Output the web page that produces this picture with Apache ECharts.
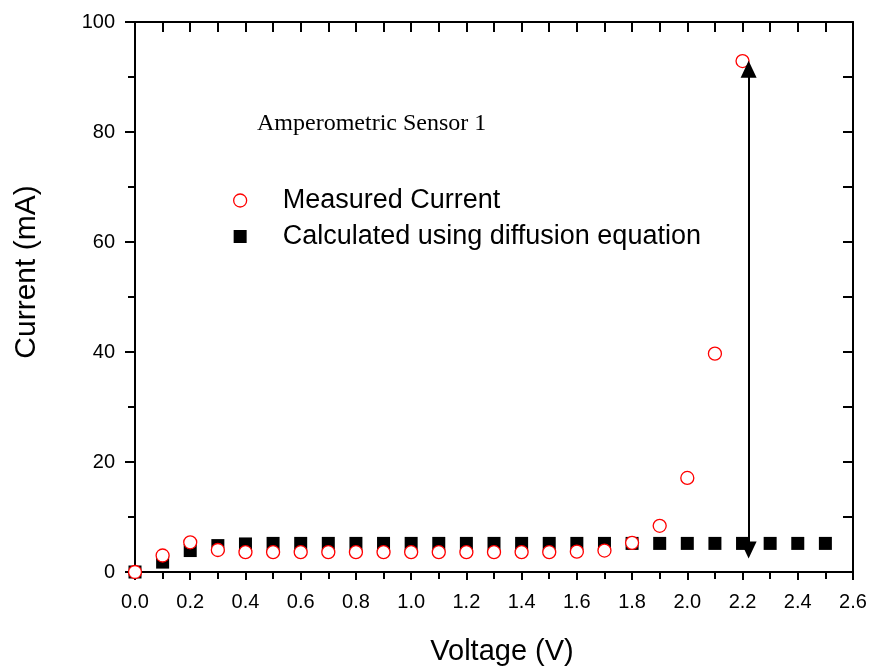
<!DOCTYPE html>
<html>
<head>
<meta charset="utf-8">
<script src="https://cdn.jsdelivr.net/npm/echarts@6/dist/echarts.min.js"></script>
<style>
  html, body { margin: 0; padding: 0; background: #fff; }
  #chart { width: 873px; height: 671px; }
</style>
</head>
<body>
<div id="chart"></div>
<script>
// voltages (V)
const voltages = [0.0, 0.1, 0.2, 0.3, 0.4, 0.5, 0.6, 0.7, 0.8, 0.9, 1.0, 1.1, 1.2,
  1.3, 1.4, 1.5, 1.6, 1.7, 1.8, 1.9, 2.0, 2.1, 2.2, 2.3, 2.4, 2.5];

// measured current (mA), up to 2.2 V
const measured = [0, 3.0, 5.4, 4.0, 3.6, 3.6, 3.6, 3.6, 3.6, 3.6, 3.6, 3.6, 3.6,
  3.6, 3.6, 3.6, 3.7, 3.9, 5.3, 8.4, 17.1, 39.7, 92.9];

// calculated with diffusion equation (mA)
const calculated = [0, 1.8, 3.9, 4.8, 5.1, 5.2, 5.2, 5.2, 5.2, 5.2, 5.2, 5.2, 5.2,
  5.2, 5.2, 5.2, 5.2, 5.2, 5.2, 5.2, 5.2, 5.2, 5.2, 5.2, 5.2, 5.2];

// double arrow annotation: [voltage, current]
const arrowFrom = [2.222, 4.0];
const arrowTo = [2.222, 91.4];

const chart = echarts.init(document.getElementById('chart'));

const axisFont = 'Liberation Sans, Arial, sans-serif';
const black = '#000';

const measuredData = measured.map((v, i) => [voltages[i], v]);
const calculatedData = calculated.map((v, i) => [voltages[i], v]);

const option = {
  backgroundColor: '#fff',
  animation: false,
  title: {
    text: 'Amperometric Sensor 1',
    left: 252,
    top: 107,
    textStyle: {
      fontFamily: 'Liberation Serif, Times New Roman, serif',
      fontWeight: 'normal',
      fontSize: 24,
      color: black
    }
  },
  legend: {
    orient: 'vertical',
    left: 228,
    top: 182,
    itemWidth: 13,
    itemHeight: 13,
    itemGap: 9,
    textStyle: {
      fontFamily: axisFont,
      fontSize: 27,
      lineHeight: 27,
      color: black,
      padding: [0, 0, 0, 31]
    },
    data: [
      { name: 'Measured Current', icon: 'circle', itemStyle: { color: '#fff', borderColor: '#ff0000', borderWidth: 1.3 } },
      { name: 'Calculated using diffusion equation', icon: 'rect', itemStyle: { color: black } }
    ]
  },
  grid: {
    left: 135,
    right: 20,
    top: 22,
    bottom: 99
  },
  xAxis: [
    {
      type: 'value',
      min: 0,
      max: 2.6,
      interval: 0.2,
      name: 'Voltage (V)',
      nameLocation: 'middle',
      nameGap: 65,
      nameTextStyle: { fontFamily: axisFont, fontSize: 29, color: black, padding: [0, 0, 0, 16] },
      axisLine: { onZero: false, lineStyle: { color: black, width: 2 } },
      axisTick: { length: 8, lineStyle: { color: black, width: 2 } },
      minorTick: { show: true, splitNumber: 2, length: 7, lineStyle: { color: black, width: 2 } },
      axisLabel: {
        margin: 20,
        fontFamily: axisFont,
        fontSize: 20,
        color: black,
        formatter: v => v.toFixed(1)
      },
      splitLine: { show: false }
    },
    {
      type: 'value',
      position: 'top',
      min: 0,
      max: 2.6,
      interval: 0.2,
      axisLine: { show: true, onZero: false, lineStyle: { color: black, width: 2 } },
      axisTick: { show: true, inside: true, length: 10, lineStyle: { color: black, width: 2 } },
      minorTick: { show: true, splitNumber: 2, length: 10, lineStyle: { color: black, width: 2 } },
      axisLabel: { show: false },
      splitLine: { show: false }
    }
  ],
  yAxis: [
    {
      type: 'value',
      min: 0,
      max: 100,
      interval: 20,
      name: 'Current (mA)',
      nameLocation: 'middle',
      nameGap: 93,
      nameTextStyle: { fontFamily: axisFont, fontSize: 30, color: black, padding: [0, 0, 0, 50] },
      axisLine: { show: true, onZero: false, lineStyle: { color: black, width: 2 } },
      axisTick: { show: true, length: 10, lineStyle: { color: black, width: 2 } },
      minorTick: { show: true, splitNumber: 2, length: 7, lineStyle: { color: black, width: 2 } },
      axisLabel: {
        margin: 20,
        fontFamily: axisFont,
        fontSize: 20,
        color: black
      },
      splitLine: { show: false }
    },
    {
      type: 'value',
      position: 'right',
      min: 0,
      max: 100,
      interval: 20,
      axisLine: { show: true, onZero: false, lineStyle: { color: black, width: 2 } },
      axisTick: { show: true, inside: true, length: 10, lineStyle: { color: black, width: 2 } },
      minorTick: { show: true, splitNumber: 2, length: 10, lineStyle: { color: black, width: 2 } },
      axisLabel: { show: false },
      splitLine: { show: false }
    }
  ],
  series: [
    {
      name: 'Calculated using diffusion equation',
      type: 'scatter',
      symbol: 'rect',
      symbolSize: 13,
      itemStyle: { color: black, opacity: 1 },
      data: calculatedData,
      markLine: {
        silent: true,
        symbol: ['triangle', 'triangle'],
        symbolSize: [16, 17],
        lineStyle: { color: black, width: 2, type: 'solid', opacity: 1 },
        label: { show: false },
        data: [[{ coord: arrowFrom }, { coord: arrowTo }]]
      }
    },
    {
      name: 'Measured Current',
      type: 'scatter',
      symbol: 'circle',
      symbolSize: 13,
      itemStyle: { color: '#fff', borderColor: '#ff0000', borderWidth: 1.3, opacity: 1 },
      data: measuredData
    },
    {
      // keeps the mirrored top / right axes drawn
      name: 'frame',
      type: 'scatter',
      xAxisIndex: 1,
      yAxisIndex: 1,
      silent: true,
      data: []
    }
  ]
};

chart.setOption(option);
</script>
</body>
</html>
